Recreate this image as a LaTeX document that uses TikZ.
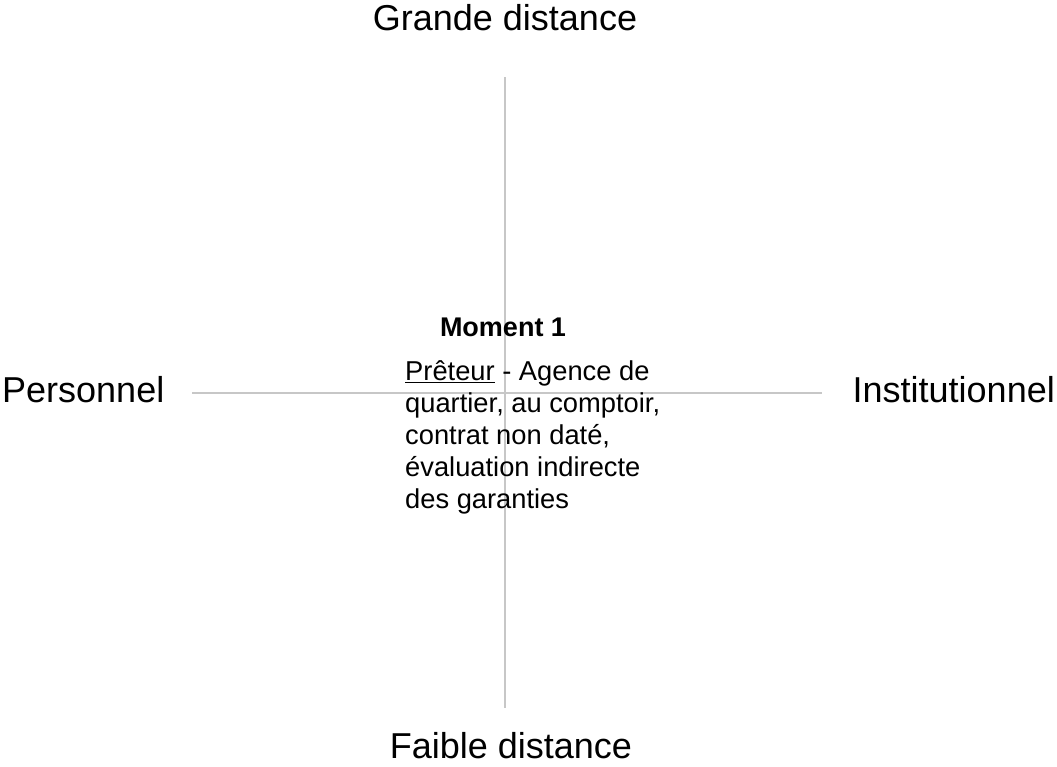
\documentclass[tikz,border=0pt]{standalone}
\usepackage{fontspec}
\setmainfont{Liberation Sans}
\begin{document}
\begin{tikzpicture}[x = 1pt, y = -1pt,
    axis/.style = {draw = black!22, line width = 1.6pt},
    pole/.style = {font = \fontsize{36}{40}\selectfont, inner sep = 0pt},
    momenttext/.style = {font = \fontsize{27.3}{32}\selectfont, inner sep = 0pt, align = left}]
    \useasboundingbox (0, 0) rectangle (1057, 766);
    \coordinate (top) at (505, 77);
    \coordinate (bottom) at (505, 708);
    \coordinate (left) at (192, 393);
    \coordinate (right) at (822, 393);
    \draw [axis] (top) -- (bottom);
    \draw [axis] (left) -- (right);
    \node [pole] (grande) at (505, 18) {Grande distance};
    \node [pole, anchor = base] (faible) at (511, 758) {Faible distance};
    \node [pole, anchor = west] (personnel) at (2, 390) {Personnel};
    \node [pole, anchor = east] (institutionnel) at (1055, 390) {Institutionnel};
    \node [momenttext, font = \fontsize{27}{32}\selectfont\bfseries] (moment) at (503, 327) {Moment 1};
    \node [momenttext, anchor = north west] (preteur) at (405, 360)
      {\underline{Prêteur} - Agence de\\quartier, au comptoir,\\contrat non daté,\\évaluation indirecte\\des garanties};
  \end{tikzpicture}
\end{document}
